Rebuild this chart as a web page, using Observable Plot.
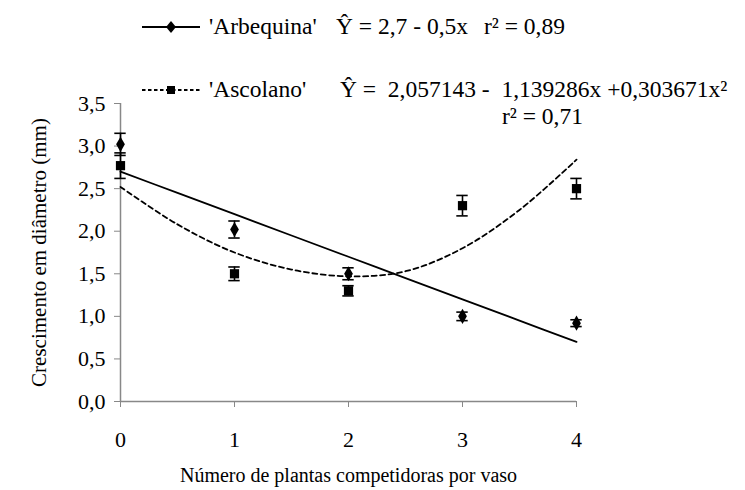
<!DOCTYPE html>
<html><head><meta charset="utf-8">
<script src="https://cdn.jsdelivr.net/npm/d3@7"></script>
<script src="https://cdn.jsdelivr.net/npm/@observablehq/plot@0.6"></script>
</head><body style="margin:0;background:#fff">
<div id="wrap" style="position:relative;width:745px;height:490px;font-family:'Liberation Serif', serif"><div id="chart"></div><div id="legend" style="position:absolute;left:0;top:0;width:745px;height:130px"></div></div>
<script>
// Data
const xs = [0, 1, 2, 3, 4];
const arbequina = [3.02, 2.02, 1.50, 1.00, 0.92];
const arbequinaErr = [0.13, 0.10, 0.07, 0.05, 0.04];
const ascolano = [2.77, 1.50, 1.30, 2.30, 2.50];
const ascolanoErr = [0.15, 0.08, 0.06, 0.12, 0.12];
const fitX = [0, 0.5, 1, 1.5, 2, 2.5, 3, 3.5, 4];
const arbequinaFit = [2.70, 2.45, 2.20, 1.95, 1.70, 1.45, 1.20, 0.95, 0.70];
const ascolanoFit = [2.52, 2.08, 1.75, 1.55, 1.47, 1.53, 1.80, 2.25, 2.84];
const yTicks = [0, 0.5, 1, 1.5, 2, 2.5, 3, 3.5];
const xTicks = [0, 1, 2, 3, 4];
const seriesNames = ["'Arbequina'", "'Ascolano'"];
const equations = ["Ŷ = 2,7 - 0,5x", "Ŷ =  2,057143 -  1,139286x +0,303671x²"];
const r2Values = ["r² = 0,89", "r² = 0,71"];
const xLabel = "Número de plantas competidoras por vaso";
const yLabel = "Crescimento em diâmetro (mm)";

const FF = "'Liberation Serif', serif";
const pts = [];
xs.forEach((x, i) => pts.push({x, y: arbequina[i], e: arbequinaErr[i], s: "A"}));
xs.forEach((x, i) => pts.push({x, y: ascolano[i], e: ascolanoErr[i], s: "B"}));
const fitA = fitX.map((x, i) => ({x, y: arbequinaFit[i]}));
const fitB = fitX.map((x, i) => ({x, y: ascolanoFit[i]}));
const cap = 0.05;
const fmt = d => d.toFixed(1).replace(".", ",");

const chart = Plot.plot({
  width: 745, height: 490,
  marginLeft: 120, marginRight: 169, marginTop: 103, marginBottom: 89,
  style: {background: "white", overflow: "visible", fontFamily: FF},
  x: {domain: [0, 4]},
  y: {domain: [0, 3.5]},
  marks: [
    Plot.axisY({ticks: yTicks, tickFormat: fmt, tickSize: 6, tickPadding: 9, stroke: "#888", fill: "black", fontSize: 22,
      label: null}),
    Plot.axisY({ticks: [], label: yLabel, labelAnchor: "center", labelArrow: "none", labelOffset: 89, fontSize: 21, fill: "black"}),
    Plot.axisX({ticks: xTicks, tickFormat: d => String(d), tickSize: 6, tickPadding: 24, stroke: "#888", fill: "black", fontSize: 22,
      label: null}),
    Plot.axisX({ticks: [], label: xLabel, labelAnchor: "center", labelArrow: "none", labelOffset: 80, fontSize: 20, fill: "black"}),
    Plot.ruleX([0], {stroke: "#888", strokeWidth: 1.5}),
    Plot.ruleY([0], {stroke: "#888", strokeWidth: 1.5}),
    Plot.line(fitA, {x: "x", y: "y", stroke: "black", strokeWidth: 1.8, curve: "catmull-rom"}),
    Plot.line(fitB, {x: "x", y: "y", stroke: "black", strokeWidth: 1.8, strokeDasharray: "5,3.5", curve: "catmull-rom"}),
    Plot.ruleX(pts, {x: "x", y1: d => d.y - d.e, y2: d => d.y + d.e, stroke: "black", strokeWidth: 1.6}),
    Plot.ruleY(pts, {y: d => d.y + d.e, x1: d => d.x - cap, x2: d => d.x + cap, stroke: "black", strokeWidth: 1.6}),
    Plot.ruleY(pts, {y: d => d.y - d.e, x1: d => d.x - cap, x2: d => d.x + cap, stroke: "black", strokeWidth: 1.6}),
    Plot.dot(pts.filter(d => d.s === "A"), {x: "x", y: "y", symbol: "diamond", r: 4.6, fill: "black"}),
    Plot.dot(pts.filter(d => d.s === "B"), {x: "x", y: "y", symbol: "square", r: 5.2, fill: "black"})
  ]
});
document.getElementById("chart").appendChild(chart);

// Legend (HTML overlay above plot area)
const lg = document.getElementById("legend");
function addSwatch(top, dashed, marker) {
  const svg = d3.create("svg").attr("width", 64).attr("height", 20)
    .style("position", "absolute").style("left", "140px").style("top", top + "px");
  svg.append("line").attr("x1", 2).attr("x2", 60).attr("y1", 10).attr("y2", 10)
    .attr("stroke", "black").attr("stroke-width", 1.8).attr("stroke-dasharray", dashed ? "3.5,2.5" : null);
  if (marker === "diamond") svg.append("path").attr("d", "M31,4 L36,10 L31,16 L26,10Z").attr("fill", "black");
  else svg.append("rect").attr("x", 27).attr("y", 6).attr("width", 8).attr("height", 8).attr("fill", "black");
  lg.appendChild(svg.node());
}
function addText(txt, left, top) {
  const d = document.createElement("div");
  d.textContent = txt;
  d.style.cssText = `position:absolute;left:${left}px;top:${top}px;white-space:pre;font-size:23.5px;line-height:1;transform:translateY(-50%);color:#000;font-family:${FF}`;
  lg.appendChild(d);
}
addSwatch(17, false, "diamond");
addSwatch(80, true, "square");
addText(seriesNames[0], 209, 27);
addText(equations[0], 336, 27);
addText(r2Values[0], 484, 27);
addText(seriesNames[1], 209, 90);
addText(equations[1], 340, 90);
addText(r2Values[1], 502, 117);
</script>
</body></html>
